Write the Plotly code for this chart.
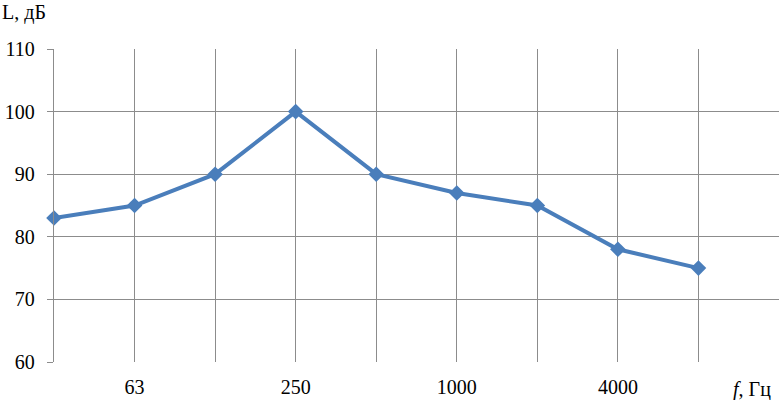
import plotly.graph_objects as go

# Octave band centre frequencies, Hz
freqs = ["31.5", "63", "125", "250", "500", "1000", "2000", "4000", "8000"]
levels = [83, 85, 90, 100, 90, 87, 85, 78, 75]
tick_labels = ["", "63", "", "250", "", "1000", "", "4000", "", ""]

xs = list(range(len(freqs)))

fig = go.Figure(go.Scatter(
    x=xs,
    y=levels,
    mode="lines+markers",
    line=dict(color="#4A7EBB", width=4),
    marker=dict(symbol="diamond", size=12, color="#4A7EBB"),
    customdata=freqs,
    hovertemplate="%{customdata} Гц: %{y} дБ<extra></extra>",
    cliponaxis=False,
))

grid = "#8c8c8c"
fig.update_layout(
    width=781, height=400,
    margin=dict(l=54, r=2, t=49, b=38),
    paper_bgcolor="white", plot_bgcolor="white",
    showlegend=False,
    font=dict(family="Liberation Serif", size=20, color="black"),
    xaxis=dict(
        range=[0, 9],
        tickvals=list(range(10)),
        ticktext=tick_labels,
        showgrid=True, gridcolor=grid, gridwidth=1.3,
        zeroline=False, showline=False,
        ticks="", ticklabelstandoff=11,
    ),
    yaxis=dict(
        range=[60, 110],
        tickvals=[60, 70, 80, 90, 100, 110],
        showgrid=True, gridcolor=grid, gridwidth=1.3,
        zeroline=False,
        showline=True, linecolor=grid, linewidth=1.3,
        ticks="outside", ticklen=6, tickcolor=grid, tickwidth=1.3,
        ticklabelstandoff=8,
    ),
    annotations=[
        dict(text="L, дБ", xref="paper", yref="paper", x=-0.075, y=1.118,
             xanchor="left", yanchor="middle", showarrow=False),
        dict(text="<i>f</i>, Гц", xref="paper", yref="paper", x=0.992, y=-0.088,
             xanchor="right", yanchor="middle", showarrow=False),
    ],
)

fig.write_html("out.html", config={"displayModeBar": False},
               post_script="document.body.style.margin='0';")
